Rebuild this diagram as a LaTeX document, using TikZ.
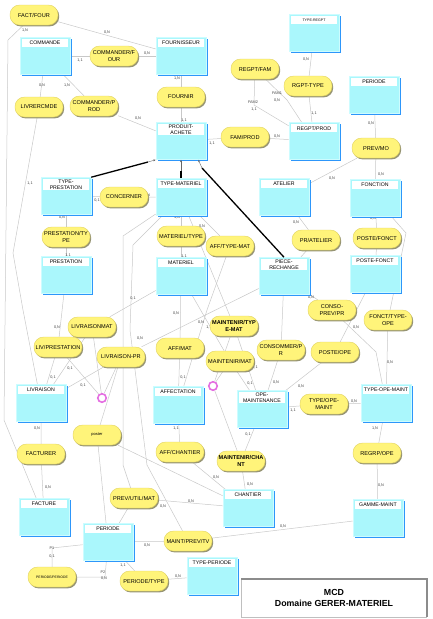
\documentclass[tikz,border=0pt]{standalone}
\usepackage{fontspec}
\setmainfont{Liberation Sans}
\usetikzlibrary{positioning, shadows, backgrounds, arrows.meta}

\definecolor{entcyan}{RGB}{170,247,252}
\definecolor{entbord}{RGB}{205,252,255}
\definecolor{entblue}{RGB}{45,150,250}
\definecolor{assjaune}{RGB}{255,244,122}
\definecolor{assbord}{RGB}{225,210,95}
\definecolor{assombre}{RGB}{150,148,115}
\definecolor{liengris}{RGB}{200,200,200}
\definecolor{cifrose}{RGB}{228,110,225}

\tikzset{
  entbox/.style={rectangle, draw=entbord, line width=0.6pt, fill=entcyan,
    minimum width=50pt, minimum height=37pt, inner sep=0pt,
    drop shadow={shadow xshift=1.6pt, shadow yshift=-1.6pt, fill=entblue, opacity=1}},
  enthead/.style={fill=white, text width=45pt, align=center, minimum height=8pt,
    inner sep=0.8pt, font=\fontsize{5.2}{6}\selectfont},
  assoc/.style={rectangle, rounded corners=9.5pt, draw=assbord, line width=0.4pt, fill=assjaune,
    minimum width=48pt, minimum height=20pt, inner sep=0.5pt, text width=47pt, align=center,
    font=\fontsize{5.6}{6.4}\selectfont,
    drop shadow={shadow xshift=1.2pt, shadow yshift=-1.4pt, fill=assombre, opacity=1}},
  card/.style={font=\fontsize{3.8}{4}\selectfont, text=black!75, inner sep=0pt},
  lien/.style={draw=liengris, line width=0.5pt},
  heritage/.style={draw=black, line width=1.3pt},
  fleche/.style={draw=black!60, line width=0.4pt, -{Stealth[length=2.4pt, width=2pt]}},
  cif/.style={circle, draw=cifrose, line width=1.6pt, fill=white, minimum size=8.5pt, inner sep=0pt},
  titre/.style={rectangle, draw=black!25, fill=white, minimum width=185pt, minimum height=38pt,
    align=center, font=\bfseries\fontsize{8.8}{10.5}\selectfont},
}

% entite : nom, x, y, libelle
\newcommand{\entite}[4]{%
  \node[entbox] (#1) at (#2,#3) {};
  \node[enthead, below=1.8pt of #1.north] (#1-t) {#4};}
% relation : nom, x, y, libelle
\newcommand{\relation}[4]{%
  \node[assoc] (#1) at (#2,#3) {#4};}

\begin{document}
\begin{tikzpicture}[x=1pt, y=-1pt]
\useasboundingbox (0,0) rectangle (432,619);

% -------------------------
% Entites
% -------------------------
\entite{commande}{45}{56}{COMMANDE}
\entite{fourn}{181}{56}{FOURNISSEUR}
\entite{typeregpt}{314}{33}{{\fontsize{3.6}{4}\selectfont TYPE-REGPT}}
\entite{pertop}{374}{95}{PERIODE}
\entite{regpt}{314}{141}{REGPT/PROD}
\entite{prodach}{181}{141}{PRODUIT-\\ACHETE}
\entite{typepresta}{66}{196}{TYPE-\\PRESTATION}
\entite{typemat}{181}{197}{TYPE-MATERIEL}
\entite{atelier}{284}{197}{ATELIER}
\entite{fonction}{375}{198}{FONCTION}
\entite{presta}{66}{275}{PRESTATION}
\entite{materiel}{181}{276}{MATERIEL}
\entite{piece}{284}{276}{PIECE-\\RECHANGE}
\entite{postefonct}{375}{274}{POSTE-FONCT}
\entite{livraison}{41}{403}{LIVRAISON}
\entite{affect}{178}{405}{AFFECTATION}
\entite{opemaint}{262}{409}{OPE-\\MAINTENANCE}
\entite{typeopem}{386}{403}{TYPE-OPE-MAINT}
\entite{facture}{44}{517}{FACTURE}
\entite{periode}{108}{542}{PERIODE}
\entite{chantier}{248}{508}{CHANTIER}
\entite{typeper}{212}{576}{TYPE-PERIODE}
\entite{gamme}{378}{518}{GAMME-MAINT}

% -------------------------
% Relations
% -------------------------
\relation{factfour}{34}{15}{FACT/FOUR}
\relation{cmdfour}{114}{56}{COMMANDER/F\\OUR}
\relation{livrcmde}{39}{107}{LIVRERCMDE}
\relation{cmdprod}{94}{106}{COMMANDER/P\\ROD}
\relation{fournir}{181}{97}{FOURNIR}
\relation{regptfam}{255}{69}{REGPT/FAM}
\relation{rgpttype}{308}{86}{RGPT-TYPE}
\relation{famprod}{245}{137}{FAM/PROD}
\relation{prevmo}{376}{148}{PREV/MO}
\relation{concerner}{124}{197}{CONCERNER}
\relation{prestatype}{66}{237}{PRESTATION/TY\\PE}
\relation{mattype}{181}{236}{MATERIEL/TYPE}
\relation{afftypemat}{230}{246}{AFF/TYPE-MAT}
\relation{pratelier}{316}{240}{PR/ATELIER}
\relation{postefct}{377}{238}{POSTE/FONCT}
\relation{consoprev}{332}{310}{CONSO-\\PREV/PR}
\relation{fonctope}{388}{320}{FONCT/TYPE-\\OPE}
\relation{livrmat}{92}{327}{LIVRAISONMAT}
\relation{livpresta}{58}{347}{LIV/PRESTATION}
\relation{livrpr}{121}{357}{LIVRAISON-PR}
\relation{mainttm}{234}{326}{\bfseries MAINTENIR/TYP\\\bfseries E-MAT}
\relation{affmat}{180}{348}{AFF/MAT}
\relation{maintmat}{230}{361}{MAINTENIR/MAT}
\relation{consommer}{281}{350}{CONSOMMER/P\\R}
\relation{posteope}{335}{352}{POSTE/OPE}
\relation{typeope}{324}{404}{TYPE/OPE-\\MAINT}
\relation{poster}{97}{435}{{\fontsize{4}{4.5}\selectfont poster}}
\relation{facturer}{41}{454}{FACTURER}
\relation{affchant}{180}{452}{AFF/CHANTIER}
\relation{maintchant}{241}{461}{\bfseries MAINTENIR/CHA\\\bfseries NT}
\relation{regrpope}{377}{453}{REGRP/OPE}
\relation{prevutil}{134}{498}{PREV/UTIL/MAT}
\relation{maintprev}{188}{541}{MAINT/PREV/TV}
\relation{perper}{52}{577}{{\fontsize{3.4}{4}\selectfont PERIODE/PERIODE}}
\relation{pertype}{144}{581}{PERIODE/TYPE}

% contraintes
\node[cif] (cif1) at (102,398) {};
\node[cif] (cif2) at (213,386) {};

% -------------------------
% Liens (derriere les noeuds)
% -------------------------
\begin{scope}[on background layer]
\draw[lien] (factfour) -- (fourn);
\draw[lien] (factfour) -- (8,40) -- (4,420) -- (facture);
\draw[lien] (commande) -- (cmdfour) -- (fourn);
\draw[lien] (commande) -- (livrcmde) -- (13,253) -- (23,310) -- (livraison);
\draw[lien] (commande) -- (cmdprod) -- (prodach);
\draw[lien] (fourn) -- (fournir) -- (prodach);
\draw[lien] (prodach) -- (famprod) -- (regpt);
\draw[lien] (regptfam) -- (254,105) -- (regpt);
\draw[lien] (regptfam) -- (287,100) -- (regpt);
\draw[lien] (typeregpt) -- (rgpttype) -- (regpt);
\draw[lien] (pertop) -- (prevmo) -- (fonction);
\draw[lien] (prevmo) -- (atelier);
\draw[lien] (typepresta) -- (concerner) -- (typemat);
\draw[lien] (typepresta) -- (prestatype) -- (presta);
\draw[lien] (typemat) -- (mattype) -- (materiel);
\draw[lien] (typemat) -- (afftypemat) -- (207,310) -- (affect);
\draw[lien] (typemat) -- (mainttm) -- (opemaint);
\draw[lien] (atelier) -- (pratelier) -- (piece);
\draw[lien] (fonction) -- (postefct) -- (postefonct);
\draw[lien] (fonction) -- (406,233) -- (fonctope) -- (typeopem);
\draw[lien] (postefonct) -- (posteope) -- (opemaint);
\draw[lien] (piece) -- (consoprev) -- (376,352) -- (typeopem);
\draw[lien] (opemaint) -- (typeope) -- (typeopem);
\draw[lien] (typeopem) -- (regrpope) -- (gamme);
\draw[lien] (gamme) -- (maintprev) -- (periode);
\draw[lien] (maintprev) -- (147,465) -- (130,330) -- (133,245) -- (typemat);
\draw[lien] (prevutil) -- (123,465) -- (123,236) -- (typemat);
\draw[lien] (prevutil) -- (chantier);
\draw[lien] (prevutil) -- (periode);
\draw[lien] (presta) -- (livpresta) -- (livraison);
\draw[lien] (materiel) -- (livrmat) -- (livraison);
\draw[lien] (piece) -- (livrpr) -- (livraison);
\draw[lien] (cif1) -- (livpresta);
\draw[lien] (cif1) -- (livrmat);
\draw[lien] (cif1) -- (livrpr);
\draw[lien] (livraison) -- (facturer) -- (facture);
\draw[lien] (materiel) -- (affmat) -- (affect);
\draw[lien] (materiel) -- (maintmat) -- (opemaint);
\draw[lien] (cif2) -- (maintmat);
\draw[lien] (cif2) -- (mainttm);
\draw[lien] (cif2) -- (maintchant);
\draw[lien] (piece) -- (consommer) -- (opemaint);
\draw[lien] (opemaint) -- (maintchant) -- (chantier);
\draw[lien] (affect) -- (affchant) -- (chantier);
\draw[lien] (poster) -- (chantier);
\draw[lien] (poster) -- (periode);
\draw[lien] (poster) -- (livrpr);
\draw[lien] (periode) -- (pertype) -- (typeper);
\draw[lien] (periode) -- (52,548) -- (perper);
\draw[lien] (periode) -- (105,577) -- (perper);

% cardinalites
\foreach \x/\y/\t [count=\i] in {
  25/30/{1,N}, 107/32/{0,N}, 80/60/{1,1}, 147/53/{0,N}, 42/85/{0,N}, 67/85/{1,N},
  138/118/{0,N}, 177/78/{1,N}, 184/120/{1,1}, 212/143/{1,1}, 277/136/{0,N},
  253/102/FAM2, 254/109/{1,1}, 277/93/FAM1, 277/100/{0,N},
  306/59/{0,N}, 314/113/{1,1}, 371/123/{0,N}, 381/174/{0,N}, 332/178/{0,N},
  30/183/{1,1}, 97/200/{0,1}, 147/195/{0,N}, 62/217/{0,N}, 68/255/{1,1},
  177/217/{1,N}, 184/256/{1,1}, 202/226/{0,N}, 296/222/{0,N}, 373/218/{0,N},
  311/297/{0,N}, 356/327/{0,N}, 390/362/{0,N}, 301/386/{0,N}, 293/410/{1,1},
  354/401/{0,N}, 375/428/{1,N}, 381/485/{0,N}, 283/526/{0,N}, 250/484/{0,N},
  191/501/{0,N}, 216/477/{0,N}, 163/506/{0,N}, 147/545/{0,N}, 178/576/{0,N},
  123/565/{1,1}, 52/548/P1, 52/556/{0,1}, 103/572/P2, 104/578/{0,N},
  48/487/{0,N}, 37/428/{0,N}, 57/327/{0,N}, 53/377/{0,1}, 70/368/{0,1},
  83/385/{0,1}, 133/298/{0,1}, 140/338/{0,N}, 176/313/{0,N}, 201/322/{0,N},
  209/327/{1,1}, 183/377/{0,1}, 250/383/{0,1}, 255/367/{1,1}, 276/382/{0,N},
  176/428/{1,1}, 248/434/{0,1}}
  \node[card] (c\i) at (\x,\y) {\t};
\end{scope}

% -------------------------
% Heritage
% -------------------------
\coordinate (h1) at (148,162);
\coordinate (h2) at (181,171);
\coordinate (h3) at (202,168);
\draw[heritage] (typepresta.north east) -- (h1);
\draw[fleche] (h1) -- (prodach.south west);
\draw[heritage] (typemat.north) -- (h2);
\draw[fleche] (h2) -- (prodach.south);
\draw[heritage] (piece.north) -- (h3);
\draw[fleche] (h3) -- ([xshift=-8pt]prodach.south east);

% -------------------------
% Cartouche
% -------------------------
\node[titre] (titre) at (334,598) {MCD\\Domaine GERER-MATERIEL};
\draw[black!45, line width=1.8pt] (titre.north west) -- (titre.north east) -- (titre.south east);

\end{tikzpicture}
\end{document}
